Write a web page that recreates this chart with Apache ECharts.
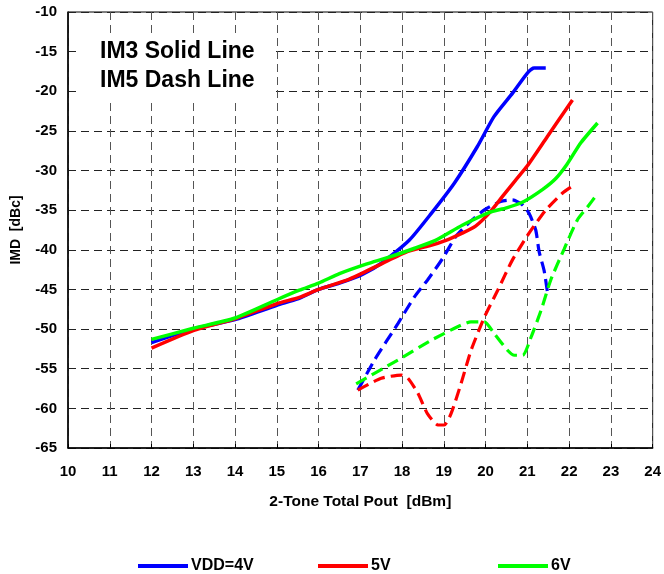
<!DOCTYPE html>
<html><head><meta charset="utf-8">
<script src="https://cdn.jsdelivr.net/npm/echarts@6/dist/echarts.min.js"></script>
<style>html,body{margin:0;padding:0;background:#fff}#c{width:664px;height:574px}</style>
</head><body><div id="c"></div>
<script>
const xTicks = [10,11,12,13,14,15,16,17,18,19,20,21,22,23,24];
const yTicks = [-65,-60,-55,-50,-45,-40,-35,-30,-25,-20,-15,-10];
const seriesNames = ['VDD=4V','5V','6V'];
const im3_4V = [[12,-51.7],[13,-50.0],[14,-48.8],[15,-47.0],[15.5,-46.2],[16,-45.0],[16.5,-44.2],[17.05,-43.1],[17.53,-41.6],[18.17,-38.8],[18.7,-35.4],[19.25,-31.6],[19.8,-27.0],[20.2,-23.2],[20.65,-20.2],[21.0,-17.7],[21.16,-17.05],[21.44,-17.05]];
const im3_5V = [[12,-52.4],[13,-50.2],[14,-48.7],[15,-46.8],[15.54,-46.0],[16,-45.0],[16.74,-43.7],[17.53,-41.7],[18.14,-40.2],[18.65,-39.5],[19.1,-38.7],[19.44,-37.9],[19.76,-37.0],[20.08,-35.4],[20.4,-33.3],[20.72,-31.2],[21.0,-29.4],[21.48,-25.7],[22.08,-21.1]];
const im3_6V = [[12,-51.3],[13,-49.9],[14,-48.6],[15,-46.3],[15.54,-45.1],[16,-44.2],[16.5,-43.0],[17.14,-41.8],[17.7,-40.9],[18.3,-39.8],[18.8,-38.8],[19.44,-36.9],[20.08,-35.3],[20.5,-34.7],[20.88,-34.0],[21.36,-32.4],[21.68,-31.0],[21.95,-29.2],[22.28,-26.5],[22.68,-24.0]];
const im5_4V = [[16.94,-57.7],[17.34,-53.9],[17.9,-49.3],[18.3,-45.9],[18.61,-43.8],[18.97,-41.1],[19.29,-38.3],[19.6,-36.6],[19.96,-35.0],[20.36,-33.9],[20.64,-33.7],[20.88,-34.3],[21.04,-35.4],[21.2,-37.5],[21.28,-40.2],[21.4,-42.6],[21.48,-45.3]];
const im5_5V = [[16.94,-57.7],[17.5,-56.2],[17.98,-55.8],[18.14,-56.2],[18.38,-58.1],[18.61,-60.7],[18.86,-62.1],[19.01,-62.1],[19.17,-60.7],[19.41,-56.9],[19.65,-52.7],[19.97,-48.5],[20.29,-45.1],[20.64,-41.3],[21.04,-37.9],[21.44,-35.0],[21.83,-32.9],[22.04,-32.1]];
const im5_6V = [[16.9,-56.9],[17.9,-53.9],[18.7,-51.4],[19.33,-49.7],[19.65,-49.1],[19.97,-49.1],[20.21,-50.6],[20.53,-52.7],[20.69,-53.3],[20.89,-53.3],[21.09,-51.0],[21.33,-47.6],[21.56,-43.8],[21.88,-39.9],[22.2,-36.2],[22.44,-34.6],[22.68,-32.9]];
const colors = ['#0000ff','#ff0000','#00ff00'];

const chart = echarts.init(document.getElementById('c'));
const font = 'Liberation Sans, Arial, sans-serif';
function solid(name, data, color){
  return {name, type:'line', data, showSymbol:false, symbol:'none', smooth:0.2, z:3,
    lineStyle:{color, width:3.5}, itemStyle:{color}};
}
function dash(name, data, color){
  return {name, type:'line', data, showSymbol:false, symbol:'none', smooth:0.2, z:2,
    lineStyle:{color, width:3.2, type:[12,6]}, itemStyle:{color}};
}
function leg(name, left){
  return {data:[{name, icon:'rect'}], left, top:553, itemWidth:50, itemHeight:4, itemGap:4,
    textStyle:{fontFamily:font, fontWeight:'bold', fontSize:16, color:'#000', padding:[0,0,0,-2]}, selectedMode:false};
}
chart.setOption({
  animation:false,
  backgroundColor:'#fff',
  grid:{left:68, right:10, top:12, bottom:126, show:true, borderColor:'#000', borderWidth:1},
  legend:[leg(seriesNames[0],133), leg(seriesNames[1],313), leg(seriesNames[2],493)],
  title:{text:'IM3 Solid Line\nIM5 Dash Line', left:80, top:34, padding:[3,18,3,20], backgroundColor:'#fff',
    textStyle:{fontFamily:font, fontWeight:'bold', fontSize:23, lineHeight:29, color:'#000'}},
  xAxis:{type:'value', min:xTicks[0], max:xTicks[xTicks.length-1], interval:1,
    name:'2-Tone Total Pout  [dBm]', nameLocation:'middle', nameGap:46,
    nameTextStyle:{fontFamily:font, fontWeight:'bold', fontSize:15.5, color:'#000'},
    axisLine:{lineStyle:{color:'#000', width:1.5}},
    axisTick:{show:true, inside:true, length:4, lineStyle:{color:'#000'}},
    axisLabel:{fontFamily:font, fontWeight:'bold', fontSize:15, color:'#000', margin:16},
    splitLine:{show:true, lineStyle:{color:'#555', width:1, type:[8,5]}}},
  yAxis:{type:'value', min:yTicks[0], max:yTicks[yTicks.length-1], interval:5,
    name:'IMD  [dBc]', nameLocation:'middle', nameGap:45,
    nameTextStyle:{fontFamily:font, fontWeight:'bold', fontSize:14, color:'#000'},
    axisLine:{show:true, lineStyle:{color:'#000', width:1.5}}, axisTick:{show:false},
    axisLabel:{fontFamily:font, fontWeight:'bold', fontSize:15, color:'#000', margin:11},
    splitLine:{show:true, lineStyle:{color:'#222', width:1, type:[8,5]}}},
  series:[
    dash('IM5 4V', im5_4V, colors[0]), dash('IM5 5V', im5_5V, colors[1]), dash('IM5 6V', im5_6V, colors[2]),
    solid(seriesNames[0], im3_4V, colors[0]), solid(seriesNames[1], im3_5V, colors[1]), solid(seriesNames[2], im3_6V, colors[2])
  ]
});
</script></body></html>
